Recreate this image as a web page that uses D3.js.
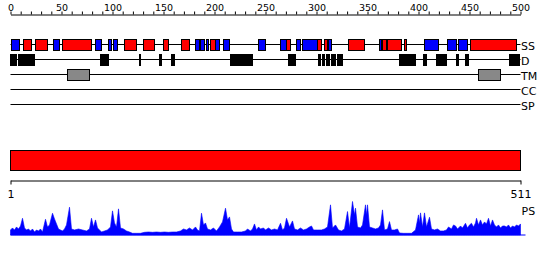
<!DOCTYPE html>
<html>
<head>
<meta charset="utf-8">
<script src="https://cdn.jsdelivr.net/npm/d3@7"></script>
<style>
  body { margin: 0; background: #fff; }
  svg text { font-family: "DejaVu Sans", sans-serif; fill: #000; }
</style>
</head>
<body>
<div id="chart"></div>
<script>
// sequence length and feature tracks (residue ranges)
var seqLength = 511;
var trackNames = ["SS", "D", "TM", "CC", "SP"];

var helix = [[14, 22], [26, 38], [53, 82], [115, 127], [134, 145], [154, 159], [172, 180],
  [201, 206], [277, 281], [308, 312], [315, 318], [339, 355], [373, 377], [378, 392],
  [395, 397], [461, 507]];
var strand = [[2, 10], [44, 50], [86, 92], [99, 102], [104, 108], [186, 190], [191, 195],
  [197, 199], [206, 210], [214, 220], [249, 256], [271, 277], [287, 291], [293, 308],
  [319, 322], [370, 372], [415, 429], [438, 447], [449, 458]];
var disorder = [[1, 7], [9, 25], [91, 99], [130, 131], [150, 152], [162, 165], [221, 243],
  [279, 286], [309, 311], [313, 315], [317, 320], [322, 326], [328, 333], [390, 400],
  [401, 406], [414, 417], [427, 437], [447, 449], [456, 459], [500, 510]];
var transmem = [[58, 80], [469, 491]];
var domains = [[1, 511]];

// PS profile (residue, score)
var psResidue = [1, 3, 5, 7, 9, 11, 13, 15, 17, 19, 21, 23, 25, 27, 29, 31, 33, 36, 38, 40,
  43, 45, 47, 49, 51, 53, 55, 57, 60, 62, 65, 69, 73, 77, 80, 82, 84, 86, 88, 90,
  92, 95, 98, 101, 103, 105, 107, 109, 111, 114, 117, 120, 123, 127, 131, 135, 139, 143, 147, 151,
  155, 159, 163, 167, 171, 174, 177, 180, 183, 186, 188, 190, 192, 194, 196, 198, 201, 204, 207, 210,
  213, 216, 218, 220, 222, 224, 228, 232, 236, 238, 241, 243, 245, 247, 249, 251, 254, 256, 259, 262,
  265, 268, 271, 273, 275, 277, 280, 283, 285, 288, 291, 294, 297, 300, 302, 304, 308, 312, 315, 318,
  321, 323, 326, 329, 332, 335, 338, 340, 343, 345, 346, 348, 351, 353, 356, 357, 358, 360, 363, 366,
  369, 371, 373, 375, 378, 380, 382, 385, 388, 390, 394, 398, 402, 406, 409, 410, 411, 413, 415, 417,
  420, 422, 425, 428, 431, 434, 437, 439, 442, 444, 446, 448, 451, 453, 456, 458, 460, 462, 464, 466,
  467, 469, 471, 473, 475, 477, 479, 481, 483, 485, 487, 489, 491, 493, 495, 497, 499, 501, 503, 505,
  507, 509, 511];
var psScore = [15, 21, 15, 24, 18, 27, 50, 21, 15, 18, 12, 18, 9, 15, 12, 18, 9, 47, 24, 30,
  65, 48, 33, 18, 15, 12, 18, 30, 83, 18, 15, 18, 15, 12, 18, 50, 24, 45, 21, 15,
  9, 12, 15, 24, 72, 36, 24, 78, 21, 18, 12, 9, 5, 5, 5, 8, 9, 8, 9, 8,
  9, 8, 9, 9, 12, 18, 15, 21, 15, 24, 15, 12, 65, 30, 36, 18, 15, 21, 12, 24,
  39, 80, 45, 54, 18, 9, 9, 9, 12, 18, 12, 18, 33, 15, 24, 18, 21, 15, 21, 15,
  18, 15, 35, 15, 21, 50, 24, 42, 18, 15, 21, 15, 18, 24, 27, 15, 15, 15, 18, 24,
  90, 21, 30, 15, 12, 18, 70, 21, 100, 60, 80, 24, 21, 30, 90, 60, 90, 24, 21, 18,
  21, 30, 75, 15, 18, 40, 15, 15, 18, 6, 5, 5, 5, 15, 60, 36, 66, 24, 66, 24,
  53, 18, 15, 18, 12, 12, 15, 24, 18, 30, 27, 18, 27, 21, 35, 21, 30, 35, 24, 36,
  50, 30, 45, 30, 39, 33, 50, 27, 45, 30, 24, 30, 21, 27, 27, 24, 30, 21, 27, 24,
  30, 27, 33];

var topTicks = d3.range(0, 501, 10);

var svgWidth = 550;
var svgHeight = 260;

var svg = d3.select("#chart")
  .append("svg")
  .attr("width", svgWidth)
  .attr("height", svgHeight);

// residue scale shared by tracks, domain bar and PS profile
var xScale = d3.scaleLinear()
  .domain([1, seqLength])
  .range([10.5, 520.5]);

// ruler on top
var rulerScale = d3.scaleLinear()
  .domain([0, 500])
  .range([10.5, 520.5]);

var topAxis = d3.axisTop(rulerScale)
  .tickValues(topTicks)
  .tickFormat(d => d % 50 === 0 ? d : "")
  .tickSize(3)
  .tickSizeOuter(0)
  .tickPadding(1);

var topG = svg.append("g")
  .attr("transform", "translate(0, 14.5)")
  .call(topAxis);
topG.selectAll("text").attr("font-size", "9.5px").attr("font-family", "DejaVu Sans, sans-serif");

// track rows
var trackY = d3.scalePoint()
  .domain(trackNames)
  .range([44.5, 104.5]);

var tracks = svg.append("g");

tracks.selectAll("line")
  .data(trackNames)
  .enter()
  .append("line")
  .attr("x1", xScale(1))
  .attr("x2", xScale(seqLength))
  .attr("y1", d => trackY(d))
  .attr("y2", d => trackY(d))
  .attr("stroke", "#000")
  .attr("stroke-width", 1);

tracks.selectAll("text")
  .data(trackNames)
  .enter()
  .append("text")
  .attr("x", xScale(seqLength) + 0.5)
  .attr("y", d => trackY(d) + 5.5)
  .attr("font-size", "11px")
  .text(d => d);

function drawBoxes(list, track, fill) {
  tracks.append("g")
    .selectAll("rect")
    .data(list)
    .enter()
    .append("rect")
    .attr("x", d => xScale(d[0]))
    .attr("width", d => xScale(d[1]) - xScale(d[0]))
    .attr("y", trackY(track) - 5)
    .attr("height", 11)
    .attr("fill", fill)
    .attr("stroke", "#000")
    .attr("stroke-width", 1);
}

drawBoxes(helix, "SS", "#ff0000");
drawBoxes(strand, "SS", "#0000ff");
drawBoxes(disorder, "D", "#000000");
drawBoxes(transmem, "TM", "#888888");

// domain bar
svg.append("g")
  .selectAll("rect")
  .data(domains)
  .enter()
  .append("rect")
  .attr("x", d => xScale(d[0]))
  .attr("width", d => xScale(d[1]) - xScale(d[0]))
  .attr("y", 150.5)
  .attr("height", 20)
  .attr("fill", "#ff0000")
  .attr("stroke", "#000")
  .attr("stroke-width", 1);

// bottom ruler
var bottomAxis = d3.axisBottom(xScale)
  .tickValues([1, seqLength])
  .tickSize(4)
  .tickSizeOuter(0)
  .tickPadding(6);

var botG = svg.append("g")
  .attr("transform", "translate(0, 180.5)")
  .call(bottomAxis);
botG.selectAll("text").attr("font-size", "11px").attr("font-family", "DejaVu Sans, sans-serif");

svg.append("text")
  .attr("x", xScale(seqLength) + 1)
  .attr("y", 215)
  .attr("font-size", "11px")
  .text("PS");

// PS profile
var psData = psResidue.map((r, i) => ({ r: r, v: psScore[i] }));

var yScale = d3.scaleLinear()
  .domain([0, 100])
  .range([235, 201.5]);

var area = d3.area()
  .x(d => xScale(d.r))
  .y0(yScale(0))
  .y1(d => yScale(d.v));

svg.append("path")
  .datum(psData)
  .attr("d", area)
  .attr("fill", "#0000ff")
  .attr("stroke", "#0000ff")
  .attr("stroke-width", 0.6);

svg.append("line")
  .attr("x1", xScale(1))
  .attr("x2", xScale(seqLength) + 5)
  .attr("y1", yScale(0))
  .attr("y2", yScale(0))
  .attr("stroke", "#0000ff")
  .attr("stroke-width", 1);
</script>
</body>
</html>
